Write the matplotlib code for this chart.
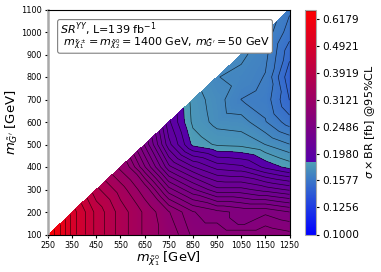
import matplotlib
matplotlib.use('Agg')
import matplotlib.pyplot as plt
import matplotlib.tri as mtri
import numpy as np
from matplotlib.colors import LinearSegmentedColormap, LogNorm
from matplotlib.cm import ScalarMappable

# limit table, one list per m_G row, starting on the diagonal
m_chi = [250, 350, 450, 550, 650, 750, 850, 950, 1050, 1150, 1250]
row_100 = [.6600, .4921, .4108, .3577, .3192, .2915, .2735, .2735, .2735, .2735, .2698]
row_200 = [.4921, .4108, .3577, .3192, .2849, .2679, .2613, .2572, .2572, .2514]
row_300 = [.3745, .3345, .2915, .2543, .2375, .2243, .2243, .2193, .2143]
row_400 = [.2980, .2601, .2243, .2095, .2002, .1980, .1891, .1828]
row_500 = [.2429, .2048, .1832, .1783, .1775, .1738, .1688]
row_600 = [.1980, .1778, .1719, .1711, .1639, .1559]
row_700 = [.1767, .1711, .1634, .1613, .1489]
row_800 = [.1688, .1669, .1631, .1456]
row_900 = [.1699, .1650, .1506]
row_1000 = [.1669, .1559]
row_1100 = [.1595]
rows = [row_100, row_200, row_300, row_400, row_500, row_600, row_700, row_800, row_900, row_1000, row_1100]
m_g = [100, 200, 300, 400, 500, 600, 700, 800, 900, 1000, 1100]
# one extra scan point in between the rows
extra_chi = [1050]
extra_g = [150]
extra_val = [.2572]

xs, ys, zs = [], [], []
for i, row in enumerate(rows):
    for j, val in enumerate(row):
        xs.append(m_chi[i + j])
        ys.append(m_g[i])
        zs.append(val)
xs += extra_chi
ys += extra_g
zs += extra_val
tri = mtri.Triangulation(np.array(xs, float), np.array(ys, float))

vmin, vmax = 0.1, 0.667
cb_ticks = [0.1000, 0.1256, 0.1577, 0.1980, 0.2486, 0.3121, 0.3919, 0.4921, 0.6179]
step = (np.log(0.185) - np.log(vmin)) / (np.log(vmax) - np.log(vmin))
cmap = LinearSegmentedColormap('limit', {
    'red': [(0, 0, 0), (step, 80/255, 85/255), (1, 1, 1)],
    'green': [(0, 0, 0), (step, 160/255, 0), (1, 0, 0)],
    'blue': [(0, 1, 1), (step, 180/255, 170/255), (1, 0, 0)],
}, N=512)
norm = LogNorm(vmin, vmax)

# contour lines are denser below 0.284
line_levels = np.concatenate([np.geomspace(0.1, 0.2842, 35), np.geomspace(0.2842, 0.66, 14)[1:]])

fig = plt.figure(figsize=(3.81, 2.72), dpi=100)
ax = fig.add_axes([48/381, 1 - 234.5/272, 241.5/381, 225/272])
ax.tricontourf(tri, zs, levels=np.geomspace(vmin, vmax, 300), cmap=cmap, norm=norm)
ax.tricontour(tri, zs, levels=line_levels, colors='black', linewidths=0.5, alpha=0.7)
ax.set_xlim(250, 1250)
ax.set_ylim(100, 1100)
ax.set_xticks(m_chi)
ax.set_yticks(m_g)
ax.tick_params(axis='x', labelsize=5.7, length=2.5, pad=2)
ax.tick_params(axis='y', labelsize=5.9, length=2.5, pad=2)
ax.spines['left'].set_color('darkgray')
ax.spines['left'].set_linewidth(1.8)
ax.set_xlabel(r"$m_{\tilde{\chi}_1^0}$ [GeV]", fontsize=9.4, labelpad=0)
ax.set_ylabel(r"$m_{\tilde{G}'}$ [GeV]", fontsize=9.5, labelpad=1)

ax.text(299, 1052, "$SR^{YY}$, L=139 fb$^{-1}$\n" +
        r" $m_{\tilde{\chi}_1^\pm}=m_{\tilde{\chi}_2^0}=$1400 GeV, $m_{\tilde{G}'}=$50 GeV",
        fontsize=8, va='top', ha='left', linespacing=0.72,
        bbox=dict(boxstyle='round,pad=0.2', fc='white', ec='gray', lw=0.8))

cax = fig.add_axes([305/381, 1 - 234.5/272, 11/381, 225/272])
cbar = fig.colorbar(ScalarMappable(norm=norm, cmap=cmap), cax=cax)
cbar.set_ticks(cb_ticks)
cbar.set_ticklabels(['%.4f' % t for t in cb_ticks])
cbar.ax.minorticks_off()
cbar.ax.tick_params(labelsize=7.6, length=2.5, pad=2)
cbar.outline.set_edgecolor('darkgray')
cbar.ax.axhline(vmax * 0.995, color='black', lw=1)
cbar.set_label(r"$\sigma\times$BR [fb] @95%CL", fontsize=8, labelpad=3)

fig.savefig('out.png', dpi=100)
